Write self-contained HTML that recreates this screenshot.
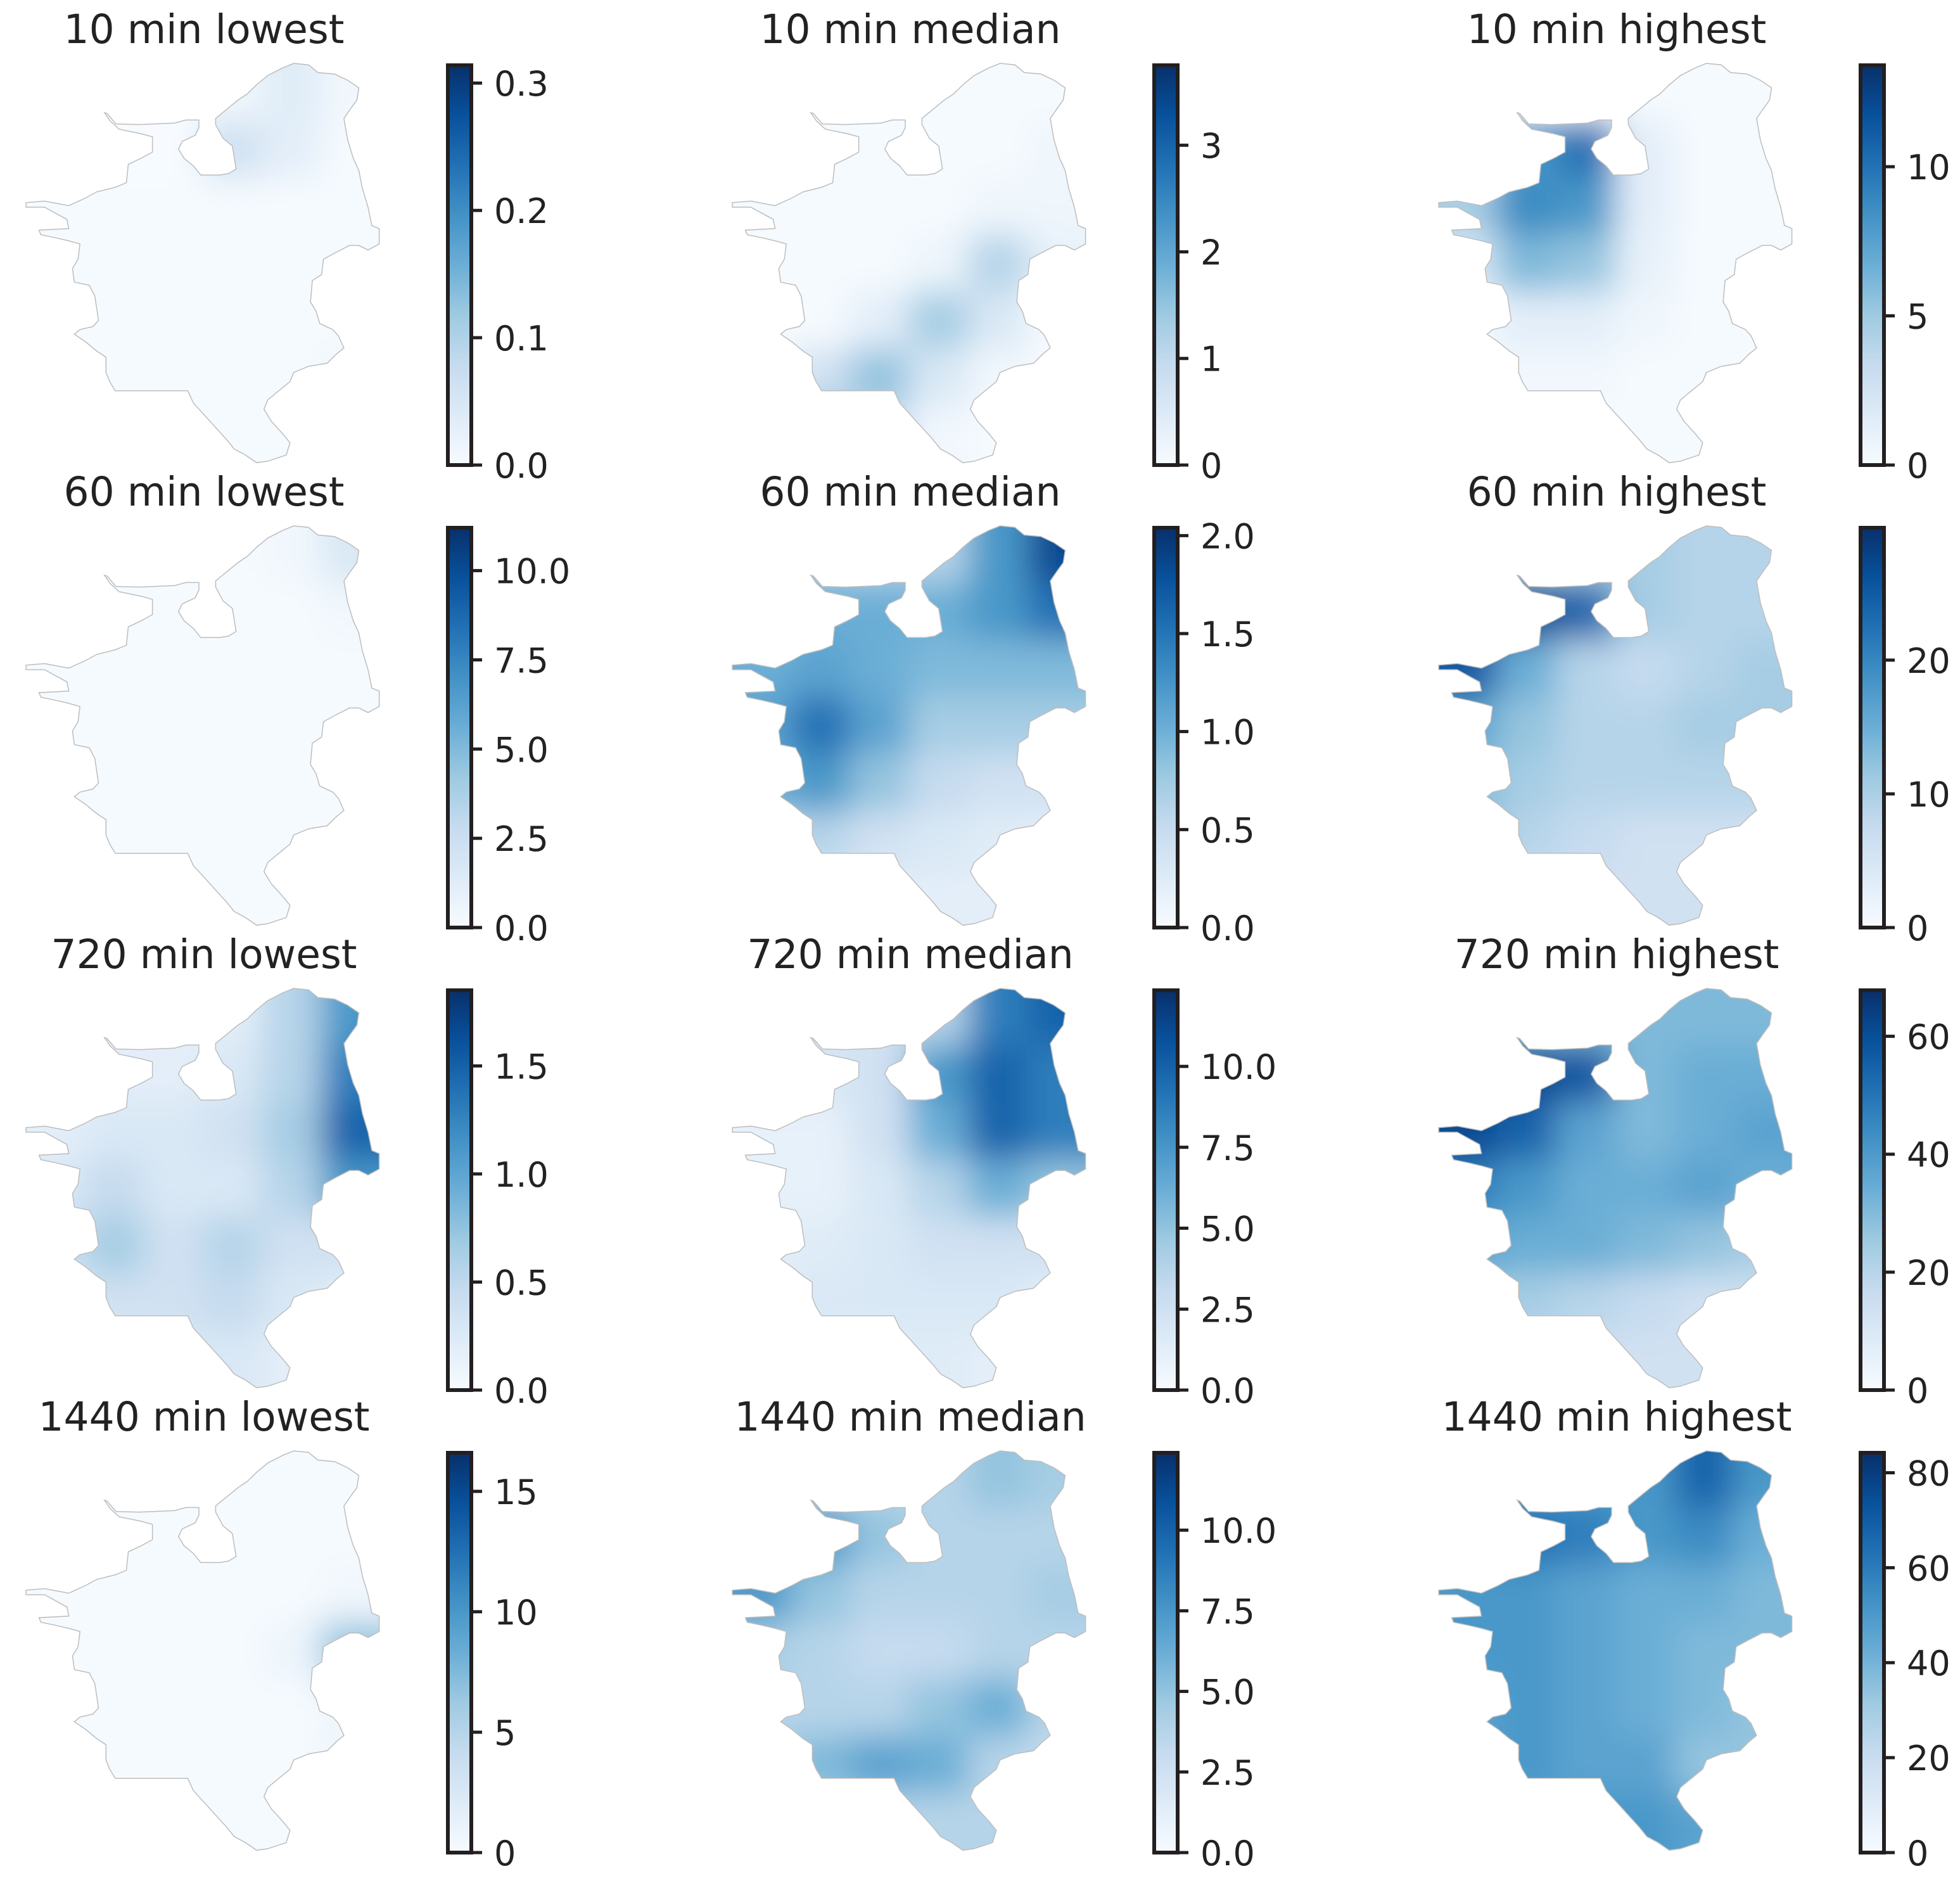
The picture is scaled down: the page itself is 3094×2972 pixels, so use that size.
<!DOCTYPE html>
<html><head><meta charset="utf-8">
<style>
html,body{margin:0;padding:0;background:#fff;}
svg{display:block;}
text{font-family:"DejaVu Sans","Liberation Sans",sans-serif;fill:#222;}
</style></head>
<body>
<svg id="fig" xmlns="http://www.w3.org/2000/svg" width="3094" height="2972" viewBox="0 0 3094 2972">
<defs>
<linearGradient id="blues" x1="0" y1="1" x2="0" y2="0">
<stop offset="0" stop-color="#f7fbff"/><stop offset="0.125" stop-color="#deebf7"/><stop offset="0.25" stop-color="#c6dbef"/><stop offset="0.375" stop-color="#9ecae1"/><stop offset="0.5" stop-color="#6baed6"/><stop offset="0.625" stop-color="#4292c6"/><stop offset="0.75" stop-color="#2171b5"/><stop offset="0.875" stop-color="#08519c"/><stop offset="1" stop-color="#08306b"/>
</linearGradient>
<filter id="blur" x="-30%" y="-30%" width="160%" height="160%"><feGaussianBlur stdDeviation="26"/></filter>
</defs>
</svg>
<script>
// ---- data ----
const titles = ["10 min lowest","10 min median","10 min highest","60 min lowest","60 min median","60 min highest","720 min lowest","720 min median","720 min highest","1440 min lowest","1440 min median","1440 min highest"];
const vmaxes = [0.314,3.75,13.4,11.2,2.04,29.9,1.85,12.35,67.8,16.6,12.4,84.2];
const tickValues = [[0,0.1,0.2,0.3],[0,1,2,3],[0,5,10],[0,2.5,5,7.5,10],[0,0.5,1,1.5,2],[0,10,20],[0,0.5,1,1.5],[0,2.5,5,7.5,10],[0,20,40,60],[0,5,10,15],[0,2.5,5,7.5,10],[0,20,40,60,80]];
const tickLabels = [["0.0","0.1","0.2","0.3"],["0","1","2","3"],["0","5","10"],["0.0","2.5","5.0","7.5","10.0"],["0.0","0.5","1.0","1.5","2.0"],["0","10","20"],["0.0","0.5","1.0","1.5"],["0.0","2.5","5.0","7.5","10.0"],["0","20","40","60"],["0","5","10","15"],["0.0","2.5","5.0","7.5","10.0"],["0","20","40","60","80"]];
// intensity grids (fraction of each panel's colour max), 7 rows x 6 cols
const g0=[[0,0,0,0.03,0.12,0.03],[0,0,0,0.2,0.1,0.01],[0.01,0.01,0.01,0.01,0.01,0.01],[0.01,0.01,0.01,0.01,0.01,0.01],[0.01,0.01,0.01,0.01,0.01,0.01],[0.01,0.01,0.01,0.01,0.01,0.04],[0.01,0.01,0.01,0.01,0.01,0.01]];
const g1=[[0.01,0.01,0.01,0.01,0.01,0.01],[0.01,0.01,0.01,0.01,0.01,0.04],[0.01,0.01,0.01,0.01,0.04,0.04],[0.01,0.01,0.01,0.05,0.3,0.08],[0.01,0.01,0.1,0.35,0.15,0.01],[0.01,0.2,0.4,0.15,0.03,0.01],[0.05,0.5,0.25,0.03,0.01,0.01]];
const g2=[[0.01,0.01,0.05,0.01,0.01,0.01],[0.15,0.6,0.75,0.1,0.01,0.01],[0.35,0.65,0.6,0.1,0.01,0.01],[0.15,0.45,0.4,0.08,0.01,0.01],[0.03,0.1,0.1,0.04,0.01,0.01],[0.01,0.03,0.03,0.01,0.01,0.01],[0.01,0.01,0.01,0.01,0.01,0.01]];
const g3=[[0.01,0.01,0.01,0.01,0.03,0.15],[0.01,0.01,0.01,0.01,0.01,0.03],[0.01,0.01,0.01,0.01,0.01,0.01],[0.01,0.01,0.01,0.01,0.01,0.01],[0.01,0.01,0.01,0.01,0.01,0.01],[0.01,0.01,0.01,0.01,0.01,0.01],[0.01,0.01,0.01,0.01,0.01,0.01]];
const g4=[[0.3,0.3,0.3,0.3,0.6,0.9],[0.4,0.5,0.5,0.5,0.6,0.75],[0.5,0.55,0.5,0.45,0.45,0.45],[0.55,0.75,0.55,0.35,0.35,0.35],[0.5,0.6,0.4,0.25,0.2,0.2],[0.3,0.3,0.2,0.15,0.12,0.1],[0.1,0.1,0.1,0.1,0.1,0.1]];
const g5=[[0.35,0.35,0.35,0.35,0.3,0.3],[0.7,0.9,0.8,0.35,0.3,0.3],[0.85,0.5,0.3,0.25,0.3,0.35],[0.55,0.4,0.3,0.3,0.35,0.35],[0.45,0.35,0.3,0.3,0.3,0.3],[0.45,0.3,0.25,0.2,0.2,0.2],[0.2,0.2,0.2,0.2,0.2,0.2]];
const g6=[[0.1,0.1,0.1,0.1,0.3,0.6],[0.1,0.1,0.1,0.15,0.3,0.7],[0.1,0.15,0.15,0.2,0.35,0.8],[0.15,0.25,0.15,0.15,0.3,0.6],[0.2,0.35,0.2,0.3,0.2,0.2],[0.15,0.2,0.2,0.25,0.15,0.1],[0.1,0.1,0.15,0.15,0.1,0.1]];
const g7=[[0.2,0.2,0.2,0.3,0.7,0.8],[0.15,0.15,0.2,0.6,0.8,0.7],[0.08,0.08,0.2,0.5,0.8,0.7],[0.08,0.08,0.15,0.3,0.5,0.4],[0.1,0.12,0.15,0.2,0.2,0.2],[0.1,0.15,0.15,0.15,0.15,0.1],[0.12,0.12,0.12,0.12,0.1,0.1]];
const g8=[[0.45,0.45,0.45,0.45,0.45,0.45],[0.75,0.9,0.85,0.45,0.5,0.5],[0.9,0.8,0.55,0.45,0.5,0.55],[0.7,0.6,0.5,0.5,0.55,0.5],[0.55,0.5,0.5,0.45,0.4,0.35],[0.4,0.35,0.3,0.25,0.2,0.2],[0.25,0.25,0.2,0.2,0.2,0.2]];
const g9=[[0.01,0.01,0.01,0.01,0.01,0.01],[0.01,0.01,0.01,0.01,0.01,0.01],[0.01,0.01,0.01,0.01,0.01,0.03],[0.01,0.01,0.01,0.01,0.05,0.4],[0.01,0.01,0.01,0.01,0.01,0.04],[0.01,0.01,0.01,0.01,0.01,0.05],[0.01,0.01,0.01,0.01,0.01,0.01]];
const g10=[[0.3,0.3,0.3,0.3,0.4,0.35],[0.4,0.6,0.4,0.3,0.3,0.3],[0.6,0.4,0.3,0.3,0.3,0.35],[0.35,0.3,0.25,0.25,0.3,0.3],[0.3,0.3,0.3,0.4,0.5,0.3],[0.35,0.45,0.55,0.5,0.3,0.25],[0.3,0.3,0.3,0.3,0.3,0.3]];
const g11=[[0.6,0.6,0.6,0.6,0.8,0.6],[0.6,0.75,0.7,0.6,0.65,0.5],[0.6,0.6,0.55,0.5,0.5,0.45],[0.6,0.6,0.55,0.5,0.45,0.45],[0.55,0.6,0.55,0.5,0.45,0.4],[0.55,0.6,0.55,0.55,0.4,0.4],[0.55,0.55,0.6,0.6,0.55,0.5]];
const grids=[g0,g1,g2,g3,g4,g5,g6,g7,g8,g9,g10,g11];

// ---- geometry ----
const NS="http://www.w3.org/2000/svg";
const fig=document.getElementById('fig');
const defs=fig.querySelector('defs');
const COLW=1115, ROWH=730;
const CB_X=707, CB_W=37, CB_TOP=103, CB_BOT=734;
const outlineZ=[[790,210],[830,215],[855,240],[900,245],[935,265],[965,290],[960,330],[945,355],[925,390],[935,460],[950,520],[965,560],[975,620],[990,680],[1000,740],[1020,750],[1020,800],[990,820],[965,805],[940,805],[900,830],[870,850],[865,900],[840,920],[835,990],[850,1020],[860,1060],[895,1080],[910,1100],[925,1140],[905,1160],[880,1190],[830,1200],[790,1220],[780,1250],[740,1290],[720,1310],[710,1340],[730,1380],[760,1420],[780,1450],[770,1490],[720,1510],[690,1515],[660,1490],[630,1470],[610,1440],[580,1400],[550,1360],[520,1320],[505,1280],[400,1280],[310,1280],[295,1250],[285,1220],[285,1170],[260,1150],[230,1120],[200,1095],[215,1080],[250,1070],[265,1050],[255,970],[240,935],[200,925],[195,880],[210,850],[215,800],[185,790],[150,780],[110,770],[105,755],[185,750],[180,720],[150,700],[120,680],[70,680],[70,665],[120,660],[185,675],[230,650],[260,630],[310,615],[340,600],[345,540],[380,520],[410,500],[410,450],[380,440],[320,425],[296,398],[281,371],[288,374],[312,408],[375,410],[470,405],[500,395],[535,395],[535,420],[525,445],[490,465],[480,490],[495,520],[520,545],[540,575],[590,575],[615,570],[635,555],[625,480],[600,455],[580,410],[580,390],[610,360],[640,330],[665,310],[690,280],[720,250],[760,225]];
const outlinePts=outlineZ.map(p=>(p[0]*0.5869).toFixed(1)+','+(100+(p[1]-210)*0.483).toFixed(1)).join(' ');
const MX0=40, MX1=600, MY0=100, MY1=730;

const stops=[[0xf7,0xfb,0xff],[0xde,0xeb,0xf7],[0xc6,0xdb,0xef],[0x9e,0xca,0xe1],[0x6b,0xae,0xd6],[0x42,0x92,0xc6],[0x21,0x71,0xb5],[0x08,0x51,0x9c],[0x08,0x30,0x6b]];
function blues(t){t=Math.max(0,Math.min(1,t));const f=t*8,i=Math.min(7,Math.floor(f)),r=f-i;const a=stops[i],b=stops[i+1];return 'rgb('+a.map((v,k)=>Math.round(v+(b[k]-v)*r)).join(',')+')';}
function mk(tag,attrs,parent){const e=document.createElementNS(NS,tag);for(const k in attrs)e.setAttribute(k,attrs[k]);if(parent)parent.appendChild(e);return e;}

for(let p=0;p<12;p++){
  const col=p%3,row=Math.floor(p/3);
  const g=mk('g',{transform:`translate(${col*COLW},${row*ROWH})`},fig);
  
  
  const t=mk('text',{x:322,y:68,'font-size':63,'text-anchor':'middle'},g);
  t.textContent=titles[p];
  
  
  const cp=mk('clipPath',{id:'clip'+p},defs);
  mk('polygon',{points:outlinePts},cp);
  const mapG=mk('g',{'clip-path':`url(#clip${p})`},g);
  
  
  const cells=mk('g',{filter:'url(#blur)'},mapG);
  const grid=grids[p],R=grid.length,C=grid[0].length;
  const cw=(MX1-MX0)/C,ch=(MY1-MY0)/R;
  for(let r=0;r<R;r++)for(let c=0;c<C;c++){
    let x=MX0+c*cw,y=MY0+r*ch,w=cw+1,h=ch+1;
    if(c===0){x-=120;w+=120;} if(c===C-1){w+=120;}
    if(r===0){y-=120;h+=120;} if(r===R-1){h+=120;}
    const cell=mk('rect',{x:x,y:y,width:w,height:h,fill:blues(grid[r][c])},cells);
    
    
  }
  const ol=mk('polygon',{points:outlinePts,fill:'none',stroke:'#bdbdbd','stroke-width':1.5},g);
  
  
  const cb=mk('g',{},g);
  
  
  mk('rect',{x:CB_X,y:CB_TOP,width:CB_W,height:CB_BOT-CB_TOP,fill:'url(#blues)',stroke:'#231f20','stroke-width':6},cb);
  const vm=vmaxes[p];
  const ys=v=>CB_BOT-(v/vm)*(CB_BOT-CB_TOP);
  tickValues[p].forEach((v,i)=>{
    const y=ys(v);
    const tk=mk('line',{x1:CB_X+CB_W,x2:CB_X+CB_W+17,y1:y,y2:y,stroke:'#231f20','stroke-width':5},cb);
    
    
    const tl=mk('text',{x:780,y:y+20,'font-size':54},cb);
    tl.textContent=tickLabels[p][i];
    
    
  });
}
</script>
</body></html>
